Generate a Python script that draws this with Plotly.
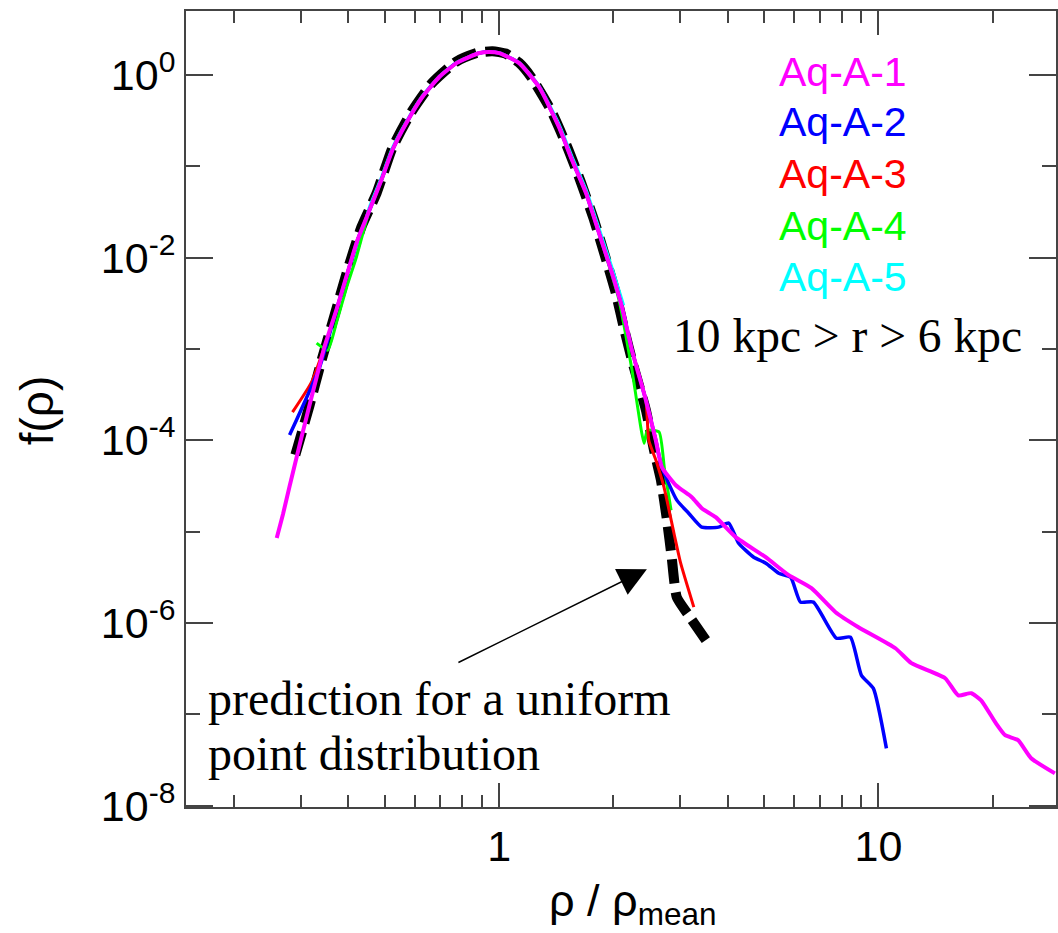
import plotly.graph_objects as go
import math

# ---------------- data ----------------
a1_x = [0.259, 0.269, 0.280, 0.301, 0.316, 0.330, 0.346, 0.372, 0.398, 0.423, 0.455, 0.489, 0.523,
        0.569, 0.627, 0.695, 0.771, 0.886, 0.94, 1.0, 1.129, 1.274, 1.438, 1.556, 1.694, 1.833, 1.983,
        2.108, 2.239, 2.437, 2.588, 2.685, 2.923, 3.221, 3.421, 3.723, 4.204, 5.045, 5.80, 6.66,
        7.71, 8.86, 11.09, 12.22, 15.0, 16.24, 17.57, 18.66, 20.32, 21.59, 23.35, 25.28, 29.2]
a1_y = [8.5e-6, 1.55e-5, 3.14e-5, 1.08e-4, 2.42e-4, 4.9e-4, 1.05e-3, 2.66e-3, 6.8e-3, 0.0156, 0.0332,
        0.0708, 0.151, 0.298, 0.574, 0.95, 1.35, 1.74, 1.79, 1.74, 1.35, 0.739, 0.269, 0.117, 0.0509,
        0.0186, 6.8e-3, 2.87e-3, 9.7e-4, 2.75e-4, 1.0e-4, 5.07e-5, 3.22e-5, 2.38e-5, 1.80e-5, 1.44e-5,
        8.7e-6, 5.24e-6, 3.33e-6, 2.40e-6, 1.31e-6, 8.97e-7, 5.28e-7, 3.62e-7, 2.48e-7, 1.61e-7,
        1.70e-7, 1.42e-7, 8.2e-8, 5.9e-8, 5.2e-8, 3.3e-8, 2.25e-8]

a2_x = [0.280, 0.336, 0.372, 0.398, 0.423, 0.455, 0.489, 0.523, 0.569, 0.627, 0.695, 0.771, 0.886,
        0.94, 1.0, 1.129, 1.274, 1.438, 1.556, 1.694, 1.833, 1.983, 2.108, 2.239, 2.437, 2.588, 2.685,
        2.94, 3.16, 3.42, 3.79, 4.03, 4.28, 4.69, 5.05, 5.46, 5.87, 6.23, 6.74, 7.75, 8.44, 9.02,
        9.70, 10.5]
a2_y = [1.14e-4, 6.3e-4, 2.66e-3, 6.8e-3, 0.0156, 0.0332, 0.0708, 0.151, 0.298, 0.574, 0.95, 1.35,
        1.74, 1.79, 1.74, 1.35, 0.739, 0.269, 0.117, 0.0509, 0.0186, 6.8e-3, 2.87e-3, 9.7e-4, 2.75e-4,
        1.0e-4, 5.07e-5, 2.21e-5, 1.59e-5, 1.12e-5, 1.12e-5, 1.24e-5, 7.46e-6, 5.24e-6, 4.51e-6,
        3.50e-6, 3.16e-6, 1.69e-6, 1.69e-6, 6.8e-7, 6.97e-7, 2.67e-7, 1.92e-7, 4.23e-8]

a3_x = [0.285, 0.320, 0.346, 0.372, 0.398, 0.423, 0.455, 0.489, 0.523, 0.569, 0.627, 0.695, 0.771,
        0.886, 0.94, 1.0, 1.129, 1.274, 1.438, 1.556, 1.694, 1.833, 1.983, 2.108, 2.239, 2.437, 2.48,
        2.59, 2.72, 2.89, 3.01, 3.26]
a3_y = [2.03e-4, 4.33e-4, 1.05e-3, 2.66e-3, 6.8e-3, 0.0156, 0.0332, 0.0708, 0.151, 0.298, 0.574,
        0.95, 1.35, 1.74, 1.79, 1.74, 1.35, 0.739, 0.269, 0.117, 0.0509, 0.0186, 6.8e-3, 2.87e-3,
        9.7e-4, 2.75e-4, 1.0e-4, 6.05e-5, 3.06e-5, 9.6e-6, 4.51e-6, 1.49e-6]

a4_x = [0.330, 0.353, 0.372, 0.396, 0.420, 0.455, 0.489, 0.523, 0.569, 0.627, 0.695, 0.771, 0.886,
        0.94, 1.0, 1.129, 1.274, 1.438, 1.556, 1.694, 1.833, 2.07, 2.24, 2.41, 2.46, 2.64, 2.73, 2.84]
a4_y = [1.16e-3, 9.7e-4, 1.92e-3, 4.76e-3, 0.0101, 0.0332, 0.0708, 0.151, 0.298, 0.574, 0.95, 1.35,
        1.74, 1.79, 1.74, 1.35, 0.739, 0.269, 0.117, 0.0509, 0.0186, 3.43e-3, 5.86e-4, 9.3e-5,
        1.29e-4, 1.23e-4, 4.7e-5, 1.71e-5]

a5_x = [0.415, 0.455, 0.489, 0.523, 0.569, 0.627, 0.695, 0.771, 0.886, 0.94, 1.0, 1.129, 1.274,
        1.438, 1.556, 1.694, 1.833, 1.983, 2.13]
a5_y = [8.9e-3, 0.036, 0.076, 0.16, 0.31, 0.59, 0.97, 1.37, 1.75, 1.79, 1.75, 1.37, 0.76, 0.29,
        0.128, 0.056, 0.021, 7.8e-3, 3.0e-3]

pred_x = [0.290, 0.316, 0.340, 0.364, 0.396, 0.433, 0.475, 0.523, 0.586, 0.662, 0.770, 0.88, 0.96,
          1.04, 1.129, 1.214, 1.37, 1.51, 1.64, 1.778, 1.91, 2.03, 2.13, 2.265, 2.437, 2.56, 2.67,
          2.77, 2.85, 2.94, 3.16, 3.51]
pred_y = [6.9e-5, 2.4e-4, 7.5e-4, 2.0e-3, 6.8e-3, 0.0216, 0.0509, 0.16, 0.39, 0.80, 1.40, 1.76, 1.82,
          1.72, 1.36, 0.95, 0.41, 0.165, 0.068, 0.026, 0.0098, 4.09e-3, 1.73e-3, 6.3e-4, 2.14e-4,
          7.8e-5, 3.66e-5, 1.33e-5, 5.24e-6, 1.91e-6, 1.21e-6, 6.45e-7]

series_names = ["Aq-A-1", "Aq-A-2", "Aq-A-3", "Aq-A-4", "Aq-A-5"]
series_colors = ["#FF00FF", "#0000FF", "#FF0000", "#00FF00", "#00FFFF"]

y_major = [1, 1e-2, 1e-4, 1e-6, 1e-8]
y_major_text = ["10<sup>0</sup>", "10<sup>-2</sup>", "10<sup>-4</sup>", "10<sup>-6</sup>", "10<sup>-8</sup>"]
y_minor = [1e-1, 1e-3, 1e-5, 1e-7]
x_major = [1, 10]
x_major_text = ["1", "10"]
x_minor = [0.2, 0.3, 0.4, 0.5, 0.6, 0.7, 0.8, 0.9, 2, 3, 4, 5, 6, 7, 8, 9, 20]

# ---------------- figure ----------------
fig = go.Figure()

fig.add_trace(go.Scatter(x=pred_x, y=pred_y, mode="lines",
                         line=dict(color="black", width=10, dash="24px,9px", shape="spline", smoothing=0.5),
                         hoverinfo="skip", showlegend=False))

order = [4, 3, 2, 1, 0]
data = [(a1_x, a1_y), (a2_x, a2_y), (a3_x, a3_y), (a4_x, a4_y), (a5_x, a5_y)]
widths = [4, 3.5, 3, 3, 3]
for i in order:
    xs, ys = data[i]
    fig.add_trace(go.Scatter(x=xs, y=ys, mode="lines",
                             line=dict(color=series_colors[i], width=widths[i], shape="spline", smoothing=0.5),
                             hoverinfo="skip", showlegend=False, name=series_names[i]))

axis_col = "#444444"
sans = "Liberation Sans, Arial, Helvetica, sans-serif"
serif = "Liberation Serif, Times New Roman, serif"

fig.update_xaxes(type="log", range=[-0.826, 1.4684], tickmode="array", tickvals=x_major, ticktext=x_major_text,
                 ticks="inside", ticklen=24, tickwidth=2, tickcolor=axis_col,
                 showline=True, linecolor=axis_col, linewidth=2, mirror="ticks",
                 minor=dict(tickmode="array", tickvals=x_minor, ticks="inside", ticklen=12, tickwidth=2,
                            tickcolor=axis_col, showgrid=False),
                 showgrid=False, zeroline=False,
                 tickfont=dict(family=sans, size=43, color="black"))
fig.update_yaxes(type="log", range=[-8.016, 0.701], tickmode="array", tickvals=y_major, ticktext=y_major_text,
                 ticks="inside", ticklen=27, tickwidth=2, tickcolor=axis_col,
                 showline=True, linecolor=axis_col, linewidth=2, mirror="ticks",
                 minor=dict(tickmode="array", tickvals=y_minor, ticks="inside", ticklen=14, tickwidth=2,
                            tickcolor=axis_col, showgrid=False),
                 showgrid=False, zeroline=False,
                 tickfont=dict(family=sans, size=43, color="black"))

L, R, T, B = 186, 0, 11, 126
W, H = 1058, 933
pw, ph = W - L - R, H - T - B


def px(xpix):
    return (xpix - L) / pw


def py(ypix):
    return (H - B - ypix) / ph


ann = []
# axis titles
ann.append(dict(text="ρ / ρ<sub>mean</sub>", x=px(634), y=py(903), xref="paper", yref="paper",
                xanchor="center", yanchor="middle", showarrow=False,
                font=dict(family=sans, size=45, color="black")))
ann.append(dict(text="f(ρ)", x=px(37), y=py(410), xref="paper", yref="paper", textangle=-90,
                xanchor="center", yanchor="middle", showarrow=False,
                font=dict(family=sans, size=46, color="black")))
# legend labels
leg_y = [72, 122, 174, 226, 277]
for name, col, yy in zip(series_names, series_colors, leg_y):
    ann.append(dict(text=name, x=px(778), y=py(yy), xref="paper", yref="paper",
                    xanchor="left", yanchor="middle", showarrow=False,
                    font=dict(family=sans, size=41, color=col)))
ann.append(dict(text="10 kpc &gt; r &gt; 6 kpc", x=px(672), y=py(336), xref="paper", yref="paper",
                xanchor="left", yanchor="middle", showarrow=False,
                font=dict(family=serif, size=47.5, color="black")))
ann.append(dict(text="prediction for a uniform", x=px(206), y=py(698), xref="paper", yref="paper",
                xanchor="left", yanchor="middle", showarrow=False,
                font=dict(family=serif, size=48, color="black")))
ann.append(dict(text="point distribution", x=px(206), y=py(753), xref="paper", yref="paper",
                xanchor="left", yanchor="middle", showarrow=False,
                font=dict(family=serif, size=48, color="black")))
# arrow
ann.append(dict(text="", x=math.log10(2.452), y=math.log10(3.87e-6), xref="x", yref="y",
                showarrow=True, ax=-190, ay=94, axref="pixel", ayref="pixel",
                arrowhead=2, arrowsize=3.8, arrowwidth=1.5, arrowcolor="black"))

fig.update_layout(width=W, height=H, margin=dict(l=L, r=R, t=T, b=B, pad=0),
                  paper_bgcolor="white", plot_bgcolor="white", annotations=ann,
                  showlegend=False, hovermode=False)

fig.write_html("out.html", config={"displayModeBar": False})
